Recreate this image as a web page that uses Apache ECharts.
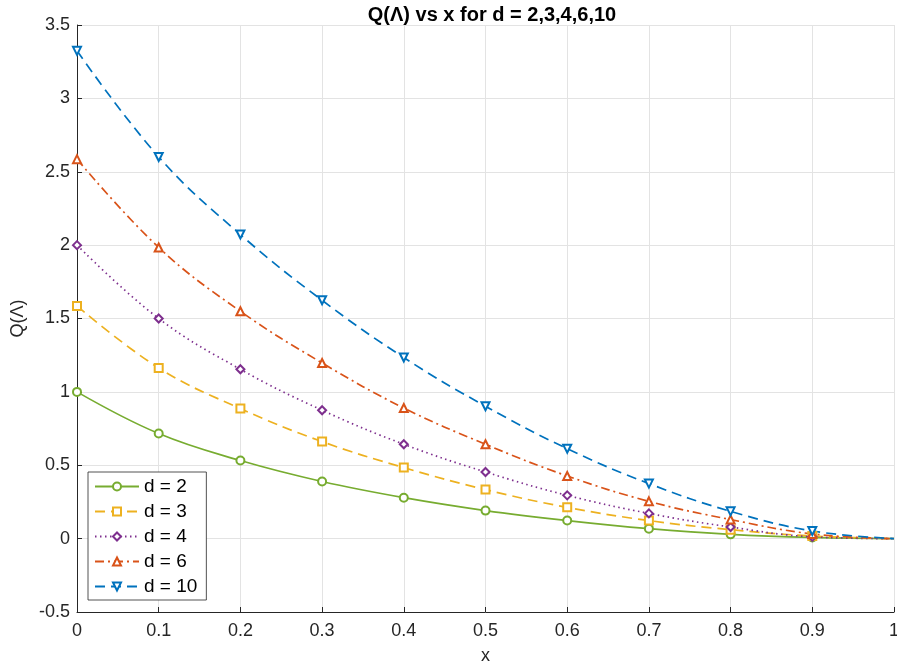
<!DOCTYPE html>
<html>
<head>
<meta charset="utf-8">
<style>html,body{margin:0;padding:0;background:#fff;overflow:hidden;}#c{width:897px;height:669px;}</style>
<script src="https://cdn.jsdelivr.net/npm/echarts@6/dist/echarts.min.js"></script>
</head>
<body>
<div id="c"></div>
<script>
const xValues = [0, 0.1, 0.2, 0.3, 0.4, 0.5, 0.6, 0.7, 0.8, 0.9, 1];
const q2  = [1.000, 0.716, 0.532, 0.389, 0.279, 0.191, 0.123, 0.068, 0.029, 0.008, 0];
const q3  = [1.586, 1.163, 0.886, 0.661, 0.484, 0.334, 0.213, 0.123, 0.061, 0.018, 0];
const q4  = [2.000, 1.500, 1.154, 0.875, 0.643, 0.454, 0.295, 0.172, 0.079, 0.012, 0];
const q6  = [2.586, 1.984, 1.549, 1.197, 0.890, 0.643, 0.427, 0.254, 0.130, 0.032, 0];
const q10 = [3.324, 2.601, 2.072, 1.624, 1.234, 0.902, 0.613, 0.375, 0.186, 0.052, 0];
const seriesNames = ['d = 2', 'd = 3', 'd = 4', 'd = 6', 'd = 10'];

const FONT = 'Liberation Sans, Arial, Helvetica, sans-serif';
// markers are shown at every point except the last one (x = 1)
const zip = (ys) => xValues.map((x, i) =>
  i === xValues.length - 1 ? {value: [x, ys[i]], symbol: 'none'} : [x, ys[i]]);

const styles = [
  {data: q2,  color: '#77AC30', symbol: 'emptyCircle',   rot: 0,   type: 'solid'},
  {data: q3,  color: '#EDB120', symbol: 'emptyRect',     rot: 0,   type: [10, 6]},
  {data: q4,  color: '#7E2F8E', symbol: 'emptyDiamond',  rot: 0,   type: [1.5, 3.5]},
  {data: q6,  color: '#D95319', symbol: 'emptyTriangle', rot: 0,   type: [9, 4, 2, 4]},
  {data: q10, color: '#0072BD', symbol: 'emptyTriangle', rot: 180, type: [10, 6]}
];

const chart = echarts.init(document.getElementById('c'));
chart.setOption({
  animation: false,
  backgroundColor: '#fff',
  title: {
    text: 'Q(Λ) vs x for d = 2,3,4,6,10',
    left: 487, top: 0, textAlign: 'center',
    textStyle: {fontFamily: FONT, fontSize: 20, fontWeight: 'bold', color: '#000'}
  },
  grid: {left: 77, right: 3, top: 25, bottom: 57, containLabel: false, outerBoundsMode: 'none'},
  legend: {
    orient: 'vertical', left: 88, top: 472,
    data: seriesNames,
    backgroundColor: '#fff', borderColor: '#262626', borderWidth: 0.8,
    padding: [5, 9, 4, 6],
    itemWidth: 44, itemHeight: 10, itemGap: 6,
    textStyle: {fontFamily: FONT, fontSize: 19, color: '#000', lineHeight: 19}
  },
  xAxis: {
    type: 'value', min: 0, max: 1, interval: 0.1,
    name: 'x', nameLocation: 'middle', nameGap: 35,
    nameTextStyle: {fontFamily: FONT, fontSize: 18, color: '#262626'},
    axisLine: {onZero: false, lineStyle: {color: '#262626', width: 1}},
    axisTick: {inside: true, length: 5, lineStyle: {color: '#262626'}},
    axisLabel: {fontFamily: FONT, fontSize: 18, color: '#262626', margin: 10},
    splitLine: {show: true, lineStyle: {color: '#e3e3e3', width: 1}}
  },
  yAxis: {
    type: 'value', min: -0.5, max: 3.5, interval: 0.5,
    name: 'Q(Λ)', nameLocation: 'middle', nameGap: 50, nameRotate: 90,
    nameTextStyle: {fontFamily: FONT, fontSize: 18, color: '#262626'},
    axisLine: {show: true, onZero: false, lineStyle: {color: '#262626', width: 1}},
    axisTick: {show: true, inside: true, length: 5, lineStyle: {color: '#262626'}},
    axisLabel: {fontFamily: FONT, fontSize: 18, color: '#262626', margin: 7},
    splitLine: {show: true, lineStyle: {color: '#e3e3e3', width: 1}}
  },
  series: styles.map((s, i) => ({
    name: seriesNames[i],
    type: 'line',
    data: zip(s.data),
    smooth: 0.4,
    symbol: s.symbol,
    symbolRotate: s.rot,
    symbolSize: 8,
    showAllSymbol: true,
    color: s.color,
    itemStyle: {color: s.color, borderColor: s.color, borderWidth: 1.3},
    lineStyle: {color: s.color, width: 1.7, type: s.type}
  }))
});
</script>
</body>
</html>
